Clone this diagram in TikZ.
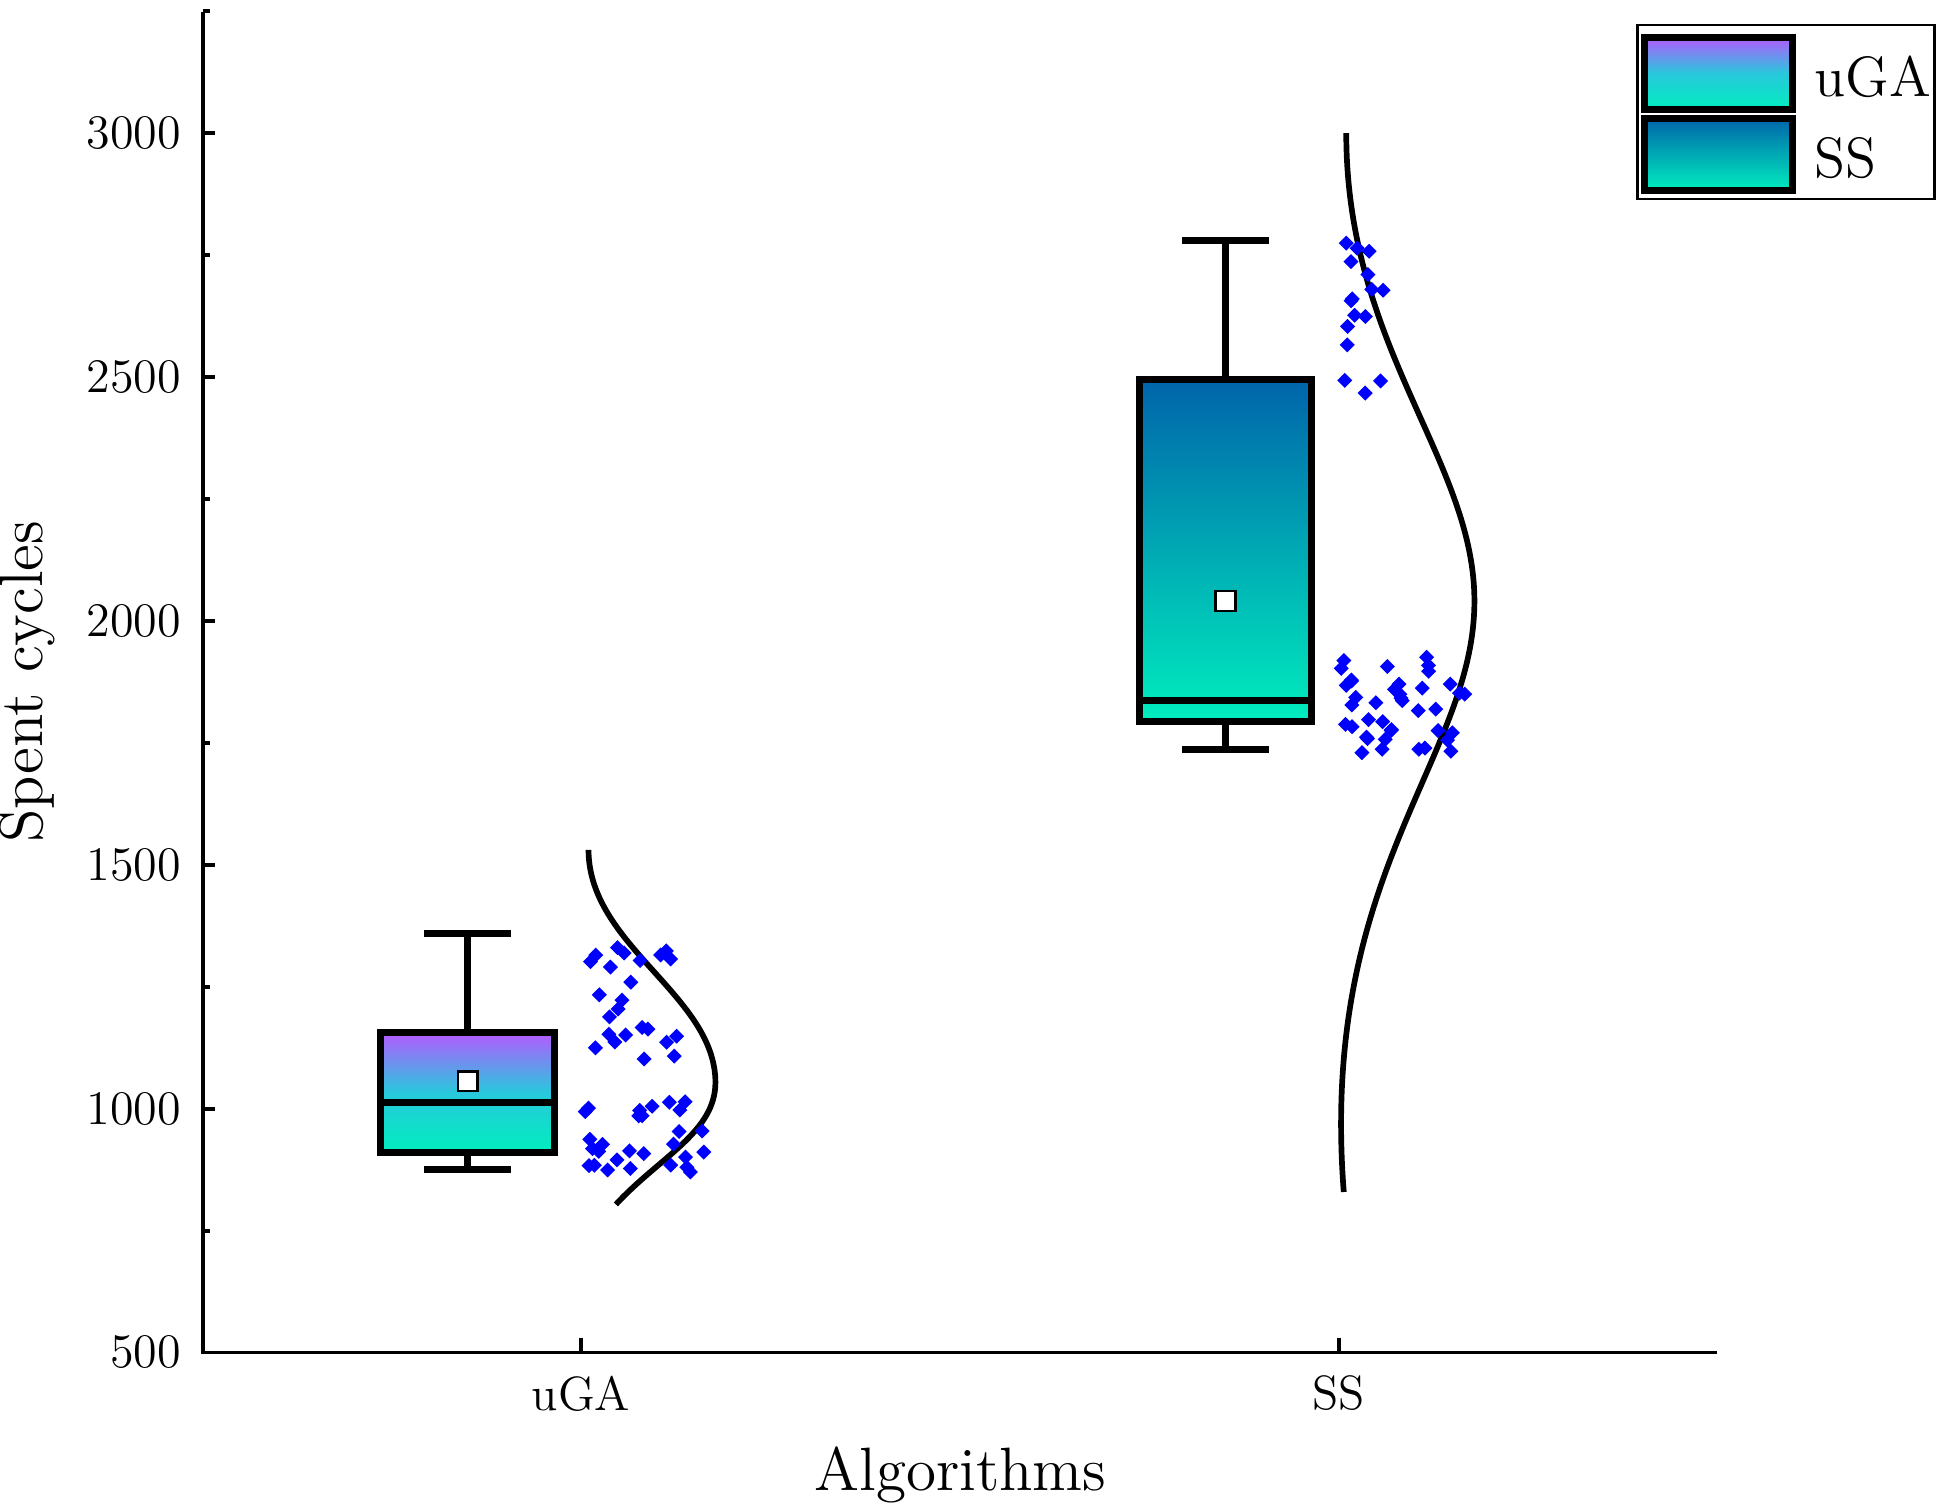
\documentclass[tikz,border=0pt]{standalone}
\usetikzlibrary{shapes.geometric}
\definecolor{aqua}{RGB}{0,238,190}
\definecolor{lilac}{RGB}{180,90,255}
\definecolor{cyanmid}{RGB}{40,200,220}
\definecolor{deepblue}{RGB}{0,100,170}
\tikzset{
  boxline/.style={line width=1.6pt},
  tickline/.style={line width=0.9pt},
  pt/.style={diamond, fill=blue, inner sep=0pt, minimum size=3.6pt},
  meanmark/.style={draw, fill=white, line width=0.6pt, inner sep=0pt, minimum size=4.5pt},
  ugabox/.style={boxline, top color=lilac, bottom color=aqua, middle color=cyanmid},
  ssbox/.style={boxline, top color=deepblue, bottom color=aqua},
}
\begin{document}
\begin{tikzpicture}[x=0.01cm, y=-0.01cm, font=\fontsize{11}{13}\selectfont]
\useasboundingbox (0,0) rectangle (1560,1212);
% axes
\coordinate (o) at (163,1087);
\coordinate (ytop) at (163,10);
\coordinate (xend) at (1380,1087);
\draw[tickline] (ytop) -- (o) -- (xend);
\foreach \v in {500,1000,...,3000}{
  \pgfmathsetmacro{\py}{1087-(\v-500)*0.392}
  \draw[tickline] (163,\py) -- (173,\py);
  \node[anchor=east] (yl\v) at (158,\py) {\v};
}
\foreach \v in {750,1250,...,3250}{
  \pgfmathsetmacro{\py}{1087-(\v-500)*0.392}
  \draw[tickline] (163,\py) -- (169,\py);
}
\draw[tickline] (467,1087) -- (467,1075);
\draw[tickline] (1076,1087) -- (1076,1075);
\node (xl1) at (467,1120) {uGA};
\node (xl2) at (1076,1120) {SS};
\node[font=\fontsize{14}{16}\selectfont] (xtitle) at (772,1185) {Algorithms};
\node[font=\fontsize{14}{16}\selectfont, rotate=90] (ytitle) at (22,548) {Spent cycles};
% uGA box
\draw[boxline] (376,750) -- (376,830);
\draw[boxline] (341,750) -- (411,750);
\draw[boxline] (376,926) -- (376,940);
\draw[boxline] (341,940) -- (411,940);
\draw[ugabox] (306,830) rectangle (446,926);
\draw[boxline] (306,886) -- (446,886);
\node[meanmark] (m1) at (376,869) {};
% SS box
\draw[boxline] (985,193) -- (985,305);
\draw[boxline] (950,193) -- (1020,193);
\draw[boxline] (985,580) -- (985,602);
\draw[boxline] (950,602) -- (1020,602);
\draw[ssbox] (916,305) rectangle (1054,580);
\draw[boxline] (916,563) -- (1054,563);
\node[meanmark] (m2) at (985,483) {};
% density curves
\draw[line width=1.3pt] (473,683) .. controls (473,760) and (575,800) .. (575,870)
  .. controls (575,910) and (530,930) .. (495,968);
\draw[line width=1.3pt] (1082,107) .. controls (1082,280) and (1185,370) .. (1185,483)
  .. controls (1185,610) and (1060,700) .. (1080,958);
% points
\pgfmathsetseed{7}
\foreach \i in {1,...,24}{
  \pgfmathsetmacro{\px}{470+rnd*75}\pgfmathsetmacro{\py}{750+rnd*105}
  \node[pt] at (\px,\py) {};
}
\foreach \i in {1,...,28}{
  \pgfmathsetmacro{\px}{470+rnd*105}\pgfmathsetmacro{\py}{882+rnd*60}
  \node[pt] at (\px,\py) {};
}
\foreach \i in {1,...,16}{
  \pgfmathsetmacro{\px}{1078+rnd*38}\pgfmathsetmacro{\py}{193+rnd*127}
  \node[pt] at (\px,\py) {};
}
\foreach \i in {1,...,40}{
  \pgfmathsetmacro{\px}{1078+rnd*107}\pgfmathsetmacro{\py}{527+rnd*78}
  \node[pt] at (\px,\py) {};
}
% legend
\draw[line width=0.6pt] (1316,20) rectangle (1555,160);
\draw[ugabox] (1322,30) rectangle (1441,88);
\node[anchor=west, font=\fontsize{13}{15}\selectfont] (lg1) at (1446,62) {uGA};
\draw[ssbox] (1322,95) rectangle (1441,153);
\node[anchor=west, font=\fontsize{13}{15}\selectfont] (lg2) at (1446,127) {SS};
\end{tikzpicture}
\end{document}
